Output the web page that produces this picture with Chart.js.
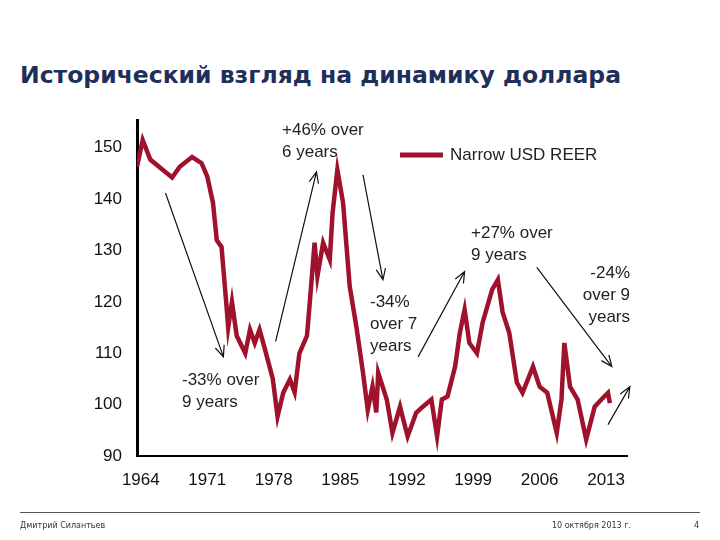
<!DOCTYPE html>
<html><head><meta charset="utf-8">
<script src="https://cdn.jsdelivr.net/npm/chart.js@4"></script>
<style>
body{margin:0;background:#fff;width:720px;height:540px;position:relative;overflow:hidden;font-family:"DejaVu Sans",sans-serif}
#title{position:absolute;left:20px;top:61px;font-size:23.5px;font-weight:bold;color:#1f2f5c}
#wrap{position:absolute;left:0;top:0;width:720px;height:540px}
#rule{position:absolute;left:20px;right:20px;top:512px;border-top:1px solid #555}
.foot{position:absolute;top:521px;font-size:8px;color:#333}
</style></head>
<body>
<div id="title">Исторический взгляд на динамику доллара</div>
<div id="wrap"><canvas id="c"></canvas></div>
<div id="rule"></div>
<div class="foot" style="left:20px">Дмитрий Силантьев</div>
<div class="foot" style="left:552px">10 октября 2013 г.</div>
<div class="foot" style="left:694px">4</div>
<script>
const years = [1963.6,1964.2,1965,1966.3,1967.3,1968.1,1969.4,1970.4,1971,1971.6,1972,1972.5,1973,1973.2,1973.6,1974.1,1975,1975.5,1976,1976.5,1977,1977.9,1978.4,1979,1979.7,1980.2,1980.7,1981.5,1981.8,1982.3,1982.6,1983.2,1983.9,1984.2,1984.7,1985.3,1986,1986.7,1987.4,1987.9,1988.4,1988.8,1989,1989.9,1990.5,1991.3,1992.1,1993,1993.7,1994.6,1995.2,1995.7,1996.3,1997.1,1997.6,1998.1,1998.6,1999.4,2000,2001,2001.6,2002.1,2002.8,2003.6,2004.2,2005.3,2006,2006.8,2007.8,2008.3,2008.6,2009.2,2010,2010.9,2011.8,2012.5,2013.2,2013.4];
const reer = [146.3,151.5,147.7,145.7,144.2,146.3,148.2,147,144.4,139.3,132,130.7,119.8,115,120,113.4,110,114.6,112,114.6,111.3,105,97.7,102.3,104.9,102.4,110,113.4,120,131.5,125,131.5,128.2,137.4,145.7,139.3,123,115.2,106.2,99,103.5,98.5,106.2,101,94.5,99.6,93.8,98.4,99.6,101,93.8,101,101.6,107.4,114,118.5,112,110,116,122.4,124.3,118,114,104.3,102.3,107.4,103.5,102.3,94.5,101,112,103.5,101,93.2,99.6,101,102.3,100.3];
const yearTicks = [1964,1971,1978,1985,1992,1999,2006,2013];
const seriesName = 'Narrow USD REER';
// arrows in data coords [x1,y1,x2,y2]
const arrows = [[1966.6,141.2,1972.7,109.3],[1978.2,112.3,1982.5,145.3],[1987.4,144.7,1989.5,124.3],[1993.2,109.3,1998.1,125.9],[2005.7,126.7,2013.6,107.4],[2013.2,96.1,2015.5,103.5]];
const notes = [
  {x:282,y:130,lines:['+46% over','6 years'],align:'left'},
  {x:182,y:380,lines:['-33% over','9 years'],align:'left'},
  {x:370,y:302,lines:['-34%','over 7','years'],align:'left'},
  {x:471,y:233,lines:['+27% over','9 years'],align:'left'},
  {x:630,y:273,lines:['-24%','over 9','years'],align:'right'}
];

const deco = {
  id:'deco',
  afterDraw(ch){
    const c = ch.ctx, xs = ch.scales.x, ys = ch.scales.y;
    c.save();
    c.strokeStyle = '#111'; c.lineWidth = 1.2;
    arrows.forEach(a => {
      const x1 = xs.getPixelForValue(a[0]), y1 = ys.getPixelForValue(a[1]);
      const x2 = xs.getPixelForValue(a[2]), y2 = ys.getPixelForValue(a[3]);
      const ang = Math.atan2(y2-y1, x2-x1);
      c.beginPath(); c.moveTo(x1,y1); c.lineTo(x2,y2);
      c.moveTo(x2-12*Math.cos(ang-0.4), y2-12*Math.sin(ang-0.4)); c.lineTo(x2,y2);
      c.lineTo(x2-12*Math.cos(ang+0.4), y2-12*Math.sin(ang+0.4));
      c.stroke();
    });
    c.fillStyle = '#222'; c.font = '17px "Liberation Sans", Arial'; c.textBaseline = 'middle';
    notes.forEach(n => {
      c.textAlign = n.align;
      n.lines.forEach((t,i) => c.fillText(t, n.x, n.y + i*22));
    });
    // legend
    c.strokeStyle = '#a0112c'; c.lineWidth = 5;
    c.beginPath(); c.moveTo(400,155); c.lineTo(443,155); c.stroke();
    c.textAlign = 'left'; c.fillStyle = '#222';
    c.fillText(seriesName, 450, 155);
    c.restore();
  }
};

new Chart(document.getElementById('c'), {
  type: 'line',
  data: { datasets: [{ label: seriesName, data: years.map((y,i) => ({x:y, y:reer[i]})),
    borderColor: '#a0112c', borderWidth: 4.5, pointRadius: 0, tension: 0 }] },
  options: {
    responsive: true, maintainAspectRatio: false, animation: false,
    layout: { padding: { left: 0, top: 120, right: 93, bottom: 44 } },
    plugins: { legend: { display: false }, tooltip: { enabled: false } },
    scales: {
      x: { type: 'linear', min: 1963.6, max: 2015.2,
        afterBuildTicks: s => { s.ticks = yearTicks.map(v => ({value: v})); },
        afterFit: s => { s.height = 40; },
        grid: { display: false, drawTicks: false },
        border: { color: '#000', width: 2 },
        ticks: { color: '#111', padding: 14, font: { size: 17, family: '"Liberation Sans", Arial' }, callback: v => String(v) } },
      y: { min: 90, max: 155.4,
        afterBuildTicks: s => { s.ticks = [90,100,110,120,130,140,150].map(v => ({value: v})); },
        afterFit: s => { s.width = 137; },
        grid: { display: false, drawTicks: true, tickLength: 5, tickColor: '#000' },
        border: { color: '#000', width: 3 },
        ticks: { color: '#111', padding: 10, font: { size: 17, family: '"Liberation Sans", Arial' } } }
    }
  },
  plugins: [deco]
});
</script>
</body></html>
